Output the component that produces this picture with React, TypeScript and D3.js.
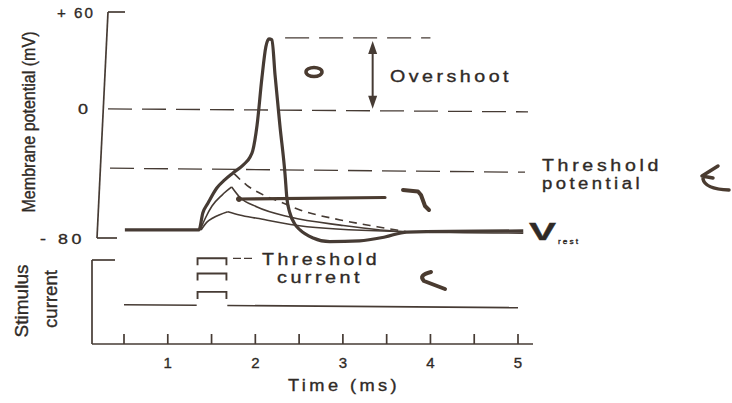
import React from "react";
import * as d3 from "d3";

// ---------- data (time in ms, potential in mV) ----------
const apTime = [0.51, 1.356, 1.40, 1.46, 1.56, 1.65, 1.745, 1.86, 1.94, 1.97, 2.02, 2.075, 2.12, 2.156, 2.19, 2.225, 2.28, 2.34, 2.36, 2.395, 2.45, 2.51, 2.66, 2.85, 3.19, 3.48, 3.73, 5.06];
const apVolt = [-75, -75, -64.5, -58.3, -49, -44, -39.7, -34.8, -29.8, -26, -10, 19.1, 38.4, 43.3, 42.7, 21, -10, -41, -55.2, -64.5, -71.3, -75, -80, -82.3, -81.8, -79.4, -76.3, -75.6];

const failTime = [1.76, 1.90, 2.09, 2.28, 2.51, 2.97, 3.39, 3.73];
const failVolt = [-40.3, -47.2, -53.3, -57.5, -62.6, -68.8, -73, -76.1];

const sub2Time = [1.37, 1.43, 1.505, 1.62, 1.73, 1.82, 2.02, 2.395, 2.97, 3.73, 5.06];
const sub2Volt = [-75, -67.6, -60.2, -53.4, -48.4, -54.6, -60.8, -67, -72, -76.1, -77];
const sub2Peak = 4;

const sub3Time = [1.38, 1.45, 1.515, 1.685, 1.82, 2.02, 2.59, 3.73];
const sub3Volt = [-75, -70, -67.6, -63.7, -65.7, -67.8, -73, -76.1];
const sub3Peak = 3;

const levelZero = 0;
const levelThreshold = -38;
const levelOvershoot = 44;

const stimBaseTime = [[0.5, 1.33], [1.68, 5.0]];
const stimPulseStart = 1.34;
const stimPulseEnd = 1.67;
const stimAmps = [1.7, 3.9, 5.7];

const timeTicks = [0.5, 1, 1.5, 2, 2.5, 3, 3.5, 4, 4.5, 5];
const timeLabels = [1, 2, 3, 4, 5];

// ---------- scales ----------
const x = d3.scaleLinear().domain([0.5, 5]).range([124, 518]);
const yV = d3.scaleLinear().domain([-80, 60]).range([238, 12]);
const yI = d3.scaleLinear().domain([-4.5, 5.5]).range([344, 260]);

const INK = "#463b34";
const TXT = "#2f2a26";
const PEN = "#4a3b30";
const FONT = "'Liberation Sans', Arial, Helvetica, sans-serif";

const lineMono = d3
  .line<[number, number]>()
  .x((d) => x(d[0]))
  .y((d) => yV(d[1]))
  .curve(d3.curveMonotoneX);

const pts = (t: number[], v: number[]) => t.map((ti, i) => [ti, v[i]] as [number, number]);

type TProps = {
  x: number;
  y: number;
  size: number;
  len: number;
  ls?: number;
  anchor?: string;
  weight?: string;
  transform?: string;
  children: React.ReactNode;
};

function T({ x: tx, y: ty, size, len, ls = 0, anchor = "start", weight = "normal", transform, children }: TProps) {
  return (
    <text
      x={tx}
      y={ty}
      transform={transform}
      fontSize={size}
      fill={TXT}
      stroke={TXT}
      strokeWidth={0.35}
      fontFamily={FONT}
      fontWeight={weight}
      textAnchor={anchor}
      letterSpacing={ls}
      textLength={len}
      lengthAdjust="spacingAndGlyphs"
    >
      {children}
    </text>
  );
}

export default function App() {
  const ap = pts(apTime, apVolt);
  const fail = pts(failTime, failVolt);
  const s2 = pts(sub2Time, sub2Volt);
  const s3 = pts(sub3Time, sub3Volt);

  const arrowX = x(3.34);
  const arrowTop = yV(42);
  const arrowBot = yV(0);
  const base = (px: number) => yI(0) - 1.5 + (px - 124) * 0.0075;

  return (
    <svg width={732} height={403} style={{ position: "absolute", left: 0, top: 0, background: "#fff" }}>
      <rect x={0} y={0} width={732} height={403} fill="#fff" />

      {/* top panel axes */}
      <line x1={108} y1={12} x2={97} y2={238} stroke={INK} strokeWidth={1.7} />
      <line x1={108} y1={12} x2={125} y2={12} stroke={INK} strokeWidth={1.7} />
      <line x1={97} y1={238} x2={117} y2={238} stroke={INK} strokeWidth={1.7} />
      <T x={57} y={17.5} size={15} len={38} ls={2}>+ 60</T>
      <T x={78} y={113.5} size={15} len={10}>0</T>
      <T x={40} y={243.5} size={15} len={45} ls={3}>- 80</T>
      <T transform={`translate(35,122) rotate(-90)`} x={0} y={0} size={18} len={181} anchor="middle">
        Membrane potential (mV)
      </T>

      {/* reference dashed levels */}
      <line x1={108} y1={yV(levelZero)} x2={528} y2={yV(levelZero) + 3} stroke={INK} strokeWidth={1.3} strokeDasharray="24 10" />
      <line x1={110} y1={yV(levelThreshold) - 2} x2={525} y2={yV(levelThreshold) + 2} stroke={INK} strokeWidth={1.3} strokeDasharray="24 10" />
      <line x1={x(2.34)} y1={yV(levelOvershoot)} x2={x(4.0)} y2={yV(levelOvershoot)} stroke={INK} strokeWidth={1.3} strokeDasharray="24 10" />

      {/* overshoot arrow */}
      <line x1={arrowX} y1={arrowTop + 8} x2={arrowX} y2={arrowBot - 8} stroke={INK} strokeWidth={2} />
      <path d={`M${arrowX},${arrowTop} L${arrowX - 4.5},${arrowTop + 13} L${arrowX + 4.5},${arrowTop + 13} Z`} fill={INK} />
      <path d={`M${arrowX},${arrowBot} L${arrowX - 4.5},${arrowBot - 13} L${arrowX + 4.5},${arrowBot - 13} Z`} fill={INK} />
      <T x={390} y={82} size={17} len={122} ls={3}>Overshoot</T>

      <T x={542} y={170.5} size={16} len={120} ls={3}>Threshold</T>
      <T x={542} y={188.5} size={16} len={101} ls={3}>potential</T>

      {/* subthreshold responses */}
      <path d={lineMono(s3.slice(0, sub3Peak + 1)) || ""} fill="none" stroke={INK} strokeWidth={1.6} />
      <path d={lineMono(s3.slice(sub3Peak)) || ""} fill="none" stroke={INK} strokeWidth={1.6} />
      <path d={lineMono(s2.slice(0, sub2Peak + 1)) || ""} fill="none" stroke={INK} strokeWidth={1.6} />
      <path d={lineMono(s2.slice(sub2Peak)) || ""} fill="none" stroke={INK} strokeWidth={1.6} />
      <path d={lineMono(fail) || ""} fill="none" stroke={INK} strokeWidth={1.6} strokeDasharray="8 6" />

      {/* action potential */}
      <path d={lineMono(ap) || ""} fill="none" stroke={INK} strokeWidth={3.2} strokeLinejoin="round" />

      <T x={529} y={240} size={23} len={27} weight="bold">V</T>
      <T x={558} y={243.5} size={8} len={22} ls={2}>rest</T>

      {/* bottom panel */}
      <line x1={92} y1={yI(5.5)} x2={92} y2={344} stroke={INK} strokeWidth={1.7} />
      <line x1={92} y1={yI(5.5)} x2={115} y2={yI(5.5)} stroke={INK} strokeWidth={1.7} />
      <line x1={92} y1={344} x2={533} y2={344} stroke={INK} strokeWidth={1.7} />
      {timeTicks.map((t) => (
        <line key={t} x1={x(t)} y1={334} x2={x(t)} y2={344} stroke={INK} strokeWidth={1.7} />
      ))}
      {timeLabels.map((t) => (
        <text key={t} x={x(t)} y={367.5} fontSize={15} fill={TXT} stroke={TXT} strokeWidth={0.35} fontFamily={FONT} textAnchor="middle">{t}</text>
      ))}
      <T x={288} y={391} size={16} len={112} ls={3}>Time (ms)</T>
      <T transform={`translate(28,301) rotate(-90)`} x={0} y={0} size={19} len={73} anchor="middle">Stimulus</T>
      <T transform={`translate(57,299) rotate(-90)`} x={0} y={0} size={19} len={58} anchor="middle">current</T>

      {stimBaseTime.map((seg, i) => (
        <line key={i} x1={x(seg[0])} y1={base(x(seg[0]))} x2={x(seg[1])} y2={base(x(seg[1]))} stroke={INK} strokeWidth={1.6} />
      ))}
      {stimAmps.map((a, i) => (
        <path
          key={i}
          d={`M${x(stimPulseStart)},${yI(a) + 7} L${x(stimPulseStart)},${yI(a)} L${x(stimPulseEnd)},${yI(a)} L${x(stimPulseEnd)},${yI(a) + 7}`}
          fill="none"
          stroke={INK}
          strokeWidth={1.9}
        />
      ))}
      <line x1={233} y1={yI(stimAmps[2])} x2={252} y2={yI(stimAmps[2])} stroke={INK} strokeWidth={1.3} strokeDasharray="8 3" />
      <T x={262} y={265} size={17} len={118} ls={3}>Threshold</T>
      <T x={277} y={283} size={17} len={86} ls={3}>current</T>

      {/* handwritten pen marks */}
      <g fill="none" stroke={PEN} strokeLinecap="round" strokeLinejoin="round">
        <ellipse cx={314} cy={72} rx={8} ry={4.5} strokeWidth={3.5} />
        <path d="M238,199 L385,197.5" strokeWidth={3.2} />
        <circle cx={239} cy={199} r={2.5} fill={PEN} strokeWidth={1} />
        <path d="M403,190 L418,191.5 L421,195 L425,206 L429,210" strokeWidth={4} />
        <path d="M718,166 L702,176 L713,178 M703,179 Q705,189 729,190" strokeWidth={3.5} />
        <path d="M431,272 Q418,275 424,281 L445,289" strokeWidth={4} />
      </g>
    </svg>
  );
}
